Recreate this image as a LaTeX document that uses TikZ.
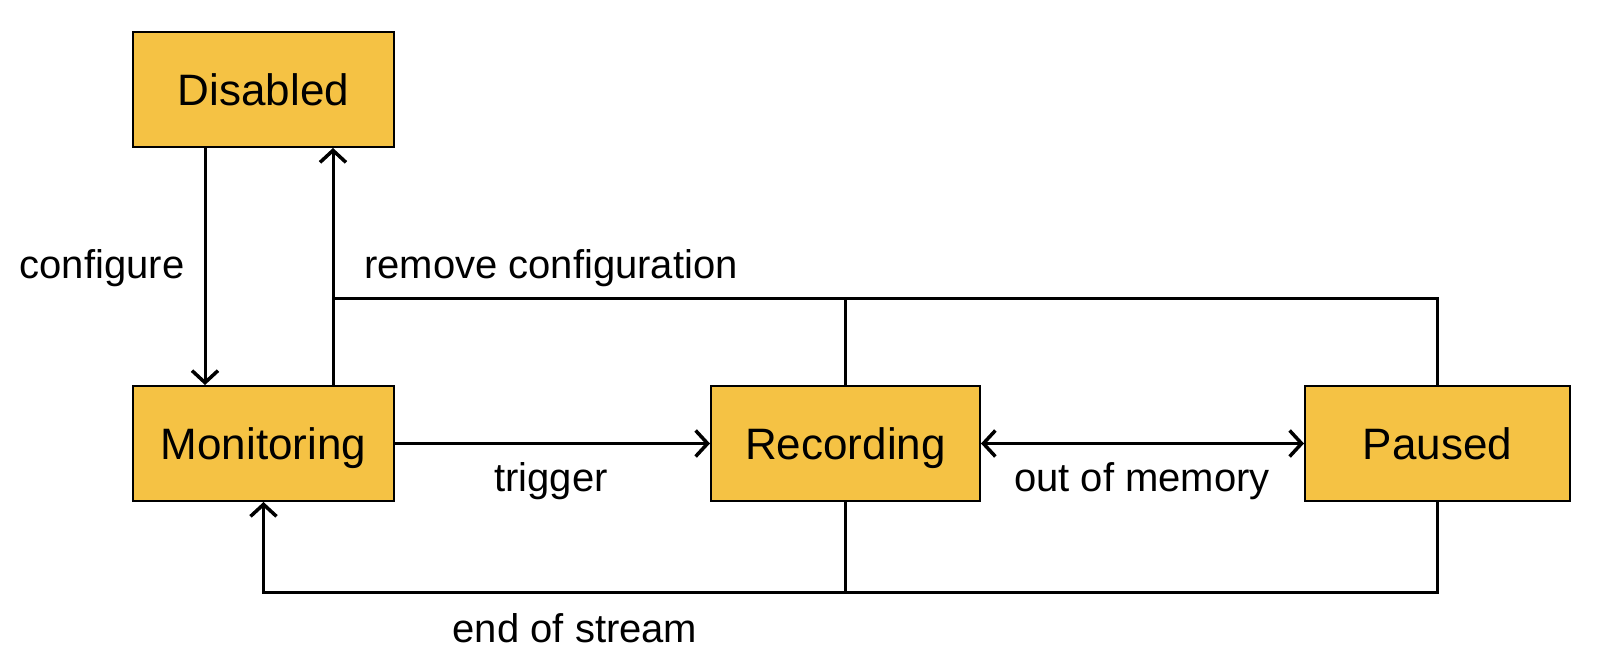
\documentclass[tikz,border=0pt]{standalone}
\usepackage{fontspec}
\setmainfont{Liberation Sans}
\usetikzlibrary{arrows.meta}
\definecolor{boxfill}{RGB}{245,194,68}
\tikzset{
  state/.style={draw=black, line width=2pt, fill=boxfill, minimum height=115pt, inner sep=0pt, text height=32pt, text depth=0pt, font=\fontsize{44}{50}\selectfont},
  conn/.style={line width=3pt, draw=black},
  arr/.style={-{Straight Barb[length=12pt,width=26pt,line width=3.5pt]}},
  lbl/.style={font=\fontsize{40}{46}\selectfont, inner sep=0pt}
}
\begin{document}
\begin{tikzpicture}[x=1pt,y=-1pt]
\useasboundingbox (0,0) rectangle (1601,668);
\node[state, minimum width=261pt] (dis) at (263.5,89.5) {Disabled};
\node[state, minimum width=261pt] (mon) at (263.5,443.5) {Monitoring};
\node[state, minimum width=269pt] (rec) at (845.5,443.5) {Recording};
\node[state, minimum width=265pt] (pau) at (1437.5,443.5) {Paused};
\coordinate (cx) at (205,0);
\coordinate (rx) at (333,0);
\coordinate (top) at (0,299);
\coordinate (bot) at (0,592);
\draw[conn,arr] (dis.south -| cx) -- (mon.north -| cx);
\draw[conn,arr] (mon.north -| rx) -- (dis.south -| rx);
\draw[conn] (pau.north) |- (rx |- top);
\draw[conn] (rec.north) -- (rec.north |- top);
\draw[conn,arr] (mon.east) -- (rec.west);
\draw[conn,{Straight Barb[length=12pt,width=26pt,line width=3.5pt]}-{Straight Barb[length=12pt,width=26pt,line width=3.5pt]}] (rec.east) -- (pau.west);
\draw[conn,arr] (rec.south) |- (mon.south |- bot) -- (mon.south);
\draw[conn] (pau.south) |- (rec.south |- bot);
\node[lbl] (l1) at (102,268) {configure};
\node[lbl] (l2) at (551,268) {remove configuration};
\node[lbl] (l3) at (551,481) {trigger};
\node[lbl] (l4) at (1142,481) {out of memory};
\node[lbl] (l5) at (575,628) {end of stream};
\end{tikzpicture}
\end{document}
